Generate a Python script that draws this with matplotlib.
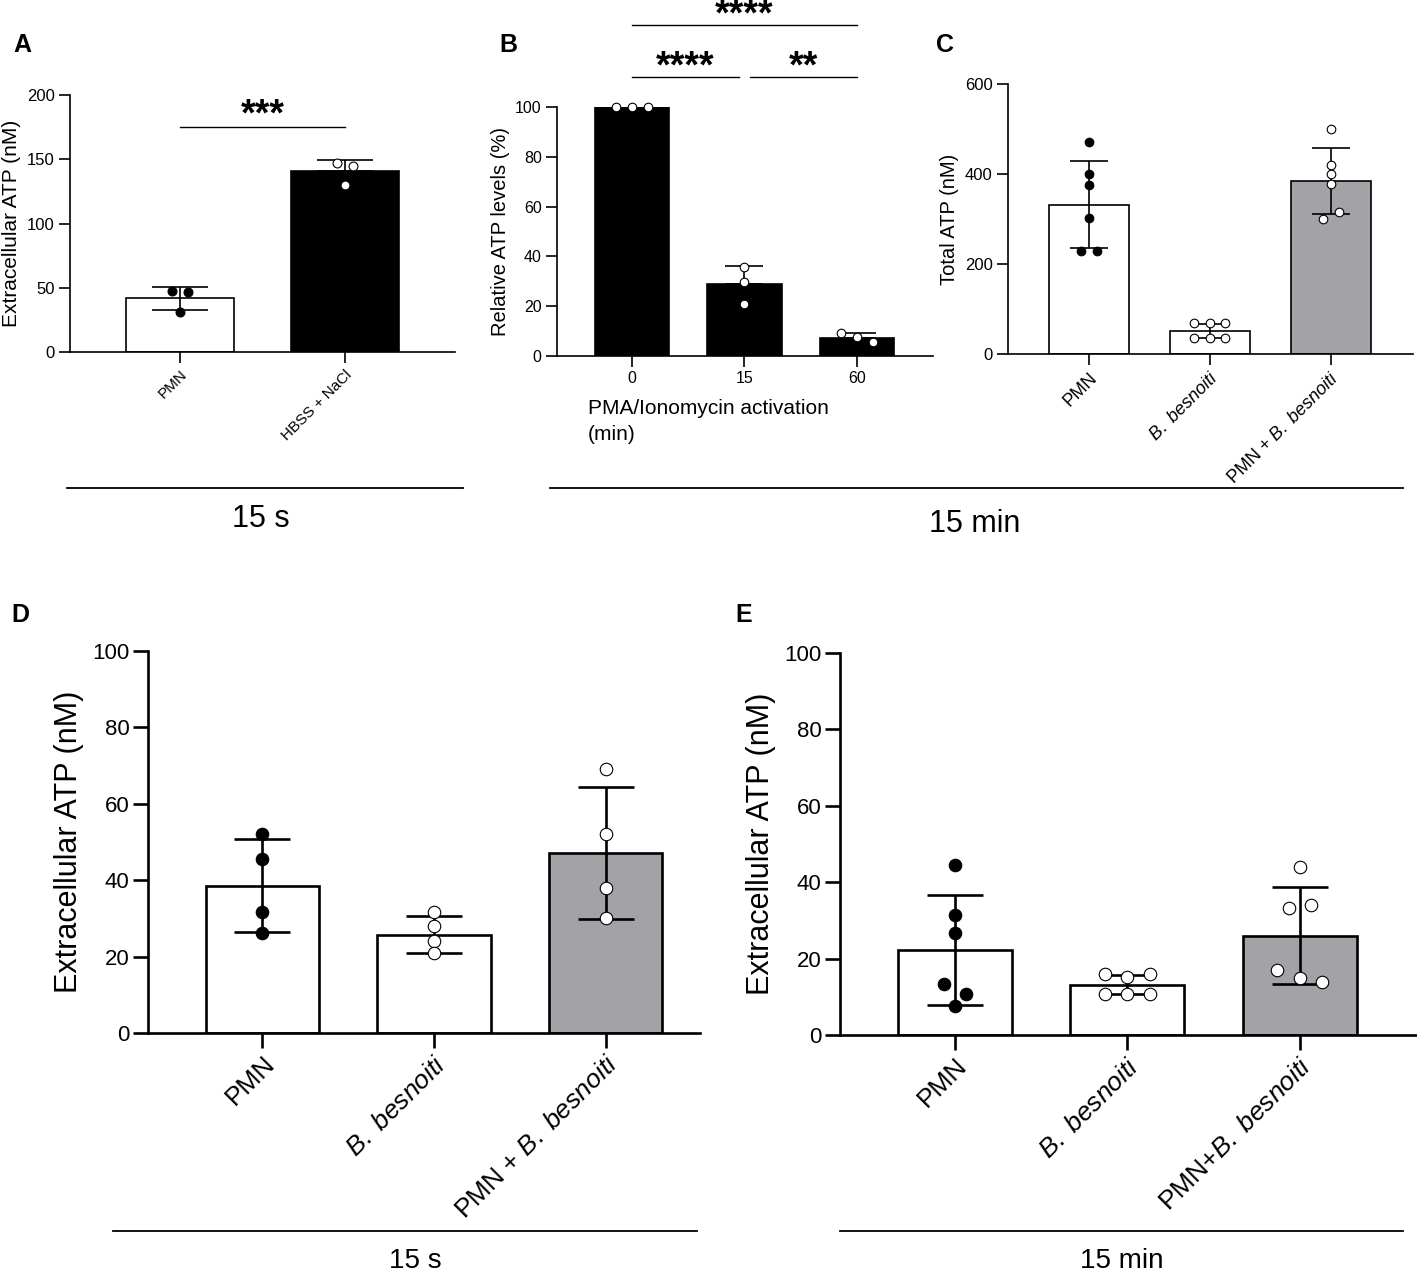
import matplotlib
matplotlib.use('Agg')
import matplotlib.pyplot as plt
import numpy as np
from matplotlib.lines import Line2D

plt.rcParams['font.family'] = ['Liberation Sans', 'DejaVu Sans']
plt.rcParams['mathtext.fontset'] = 'custom'
plt.rcParams['mathtext.rm'] = 'Liberation Sans'
plt.rcParams['mathtext.it'] = 'Liberation Sans:italic'

W, H = 1417, 1274

# ---- data ----
bb = r'$\mathit{B.\ besnoiti}$'

a_groups = ['PMN', 'HBSS + NaCl']
a_mean = [41.7, 140.6]
a_sd = [9.1, 9.1]
a_points = [[47.8, 46.5, 31.2], [146.8, 145.0, 129.8]]

b_groups = ['0', '15', '60']
b_mean = [100, 28.8, 7.3]
b_sd = [0, 7.5, 1.8]
b_points = [[100, 100, 100], [35.6, 29.9, 20.7], [9.1, 7.6, 5.7]]

c_groups = ['PMN', bb, 'PMN + ' + bb]
c_mean = [332, 51, 384]
c_sd = [97, 16, 73]
c_points = [[470, 400, 375, 303, 228, 228],
            [68, 68, 68, 36, 36, 36],
            [499, 421, 399, 377, 301, 316]]

d_groups = ['PMN', bb, 'PMN + ' + bb]
d_mean = [38.6, 25.7, 47.2]
d_sd = [12.1, 4.8, 17.3]
d_points = [[52.0, 45.5, 31.6, 26.1],
            [31.6, 27.9, 24.1, 20.9],
            [69.2, 52.1, 38.0, 30.1]]

e_groups = ['PMN', bb, 'PMN+' + bb]
e_mean = [22.3, 13.2, 26.0]
e_sd = [14.4, 2.5, 12.7]
e_points = [[44.5, 31.5, 26.8, 13.4, 10.7, 7.6],
            [16.0, 15.2, 16.0, 10.7, 10.7, 10.7],
            [43.9, 33.2, 34.0, 17.0, 14.8, 13.8]]

GRAY = '#a3a3a7'


def spread(vals, thresh, step):
    # put close values side by side, like a scatter-dot plot
    vals = np.asarray(vals, float)
    order = np.argsort(vals, kind='stable')
    groups = [[order[0]]]
    for i in order[1:]:
        if vals[i] - vals[groups[-1][-1]] < thresh:
            groups[-1].append(i)
        else:
            groups.append([i])
    off = np.zeros(len(vals))
    for g in groups:
        g = sorted(g)
        k = len(g)
        for j, idx in enumerate(g):
            off[idx] = (j - (k - 1) / 2) * step
    return off


def px_axes(fig, left, top, right, bottom):
    return fig.add_axes([left / W, 1 - bottom / H, (right - left) / W, (bottom - top) / H])


def draw_panel(ax, means, sds, points, bar_colors, dot_colors, xright, ylim, yticks,
               ms, cap, lw, thresh, step, ticklen, tickfs):
    x = np.arange(len(means))
    ax.bar(x, means, width=0.66, color=bar_colors, edgecolor='black', linewidth=lw, zorder=2)
    for i in range(len(means)):
        lo = 0 if bar_colors[i] == 'black' else sds[i]
        ax.errorbar(x[i], means[i], yerr=[[lo], [sds[i]]], fmt='none', ecolor='black',
                    elinewidth=lw, capsize=cap, capthick=lw, zorder=3)
        off = spread(points[i], thresh, step)
        ax.plot(x[i] + off, points[i], 'o', ms=ms, mfc=dot_colors[i], mec='black',
                mew=0.8, zorder=4, clip_on=False)
    ax.set_xlim(-0.667, xright)
    ax.set_ylim(*ylim)
    ax.set_yticks(yticks)
    ax.set_xticks(x)
    for s in ['top', 'right']:
        ax.spines[s].set_visible(False)
    for s in ['left', 'bottom']:
        ax.spines[s].set_linewidth(lw)
    ax.tick_params(length=ticklen, width=lw, labelsize=tickfs, pad=3)


def stars(ax, x, y, txt):
    ax.annotate(txt, (x, y), xytext=(0, -13), textcoords='offset points',
                ha='center', va='baseline', fontsize=27, fontweight='bold', annotation_clip=False)


fig = plt.figure(figsize=(W / 100, H / 100), dpi=100)

# ---- A ----
axA = px_axes(fig, 70, 95, 455, 352)
draw_panel(axA, a_mean, a_sd, a_points, ['white', 'black'], ['black', 'white'],
           1.667, (0, 200), [0, 50, 100, 150, 200], 6.4, 20, 1.2, 6, 0.1, 8, 12)
axA.set_xticklabels(a_groups, rotation=45, ha='right', va='top', rotation_mode='anchor', fontsize=11)
axA.set_ylabel('Extracellular ATP (nM)', fontsize=15, labelpad=4)
axA.plot([0, 1], [175, 175], color='black', lw=1.0, clip_on=False)
stars(axA, 0.5, 190, '***')

# ---- B ----
axB = px_axes(fig, 557, 107, 933, 356)
draw_panel(axB, b_mean, b_sd, b_points, ['black'] * 3, ['white'] * 3,
           2.676, (0, 100), [0, 20, 40, 60, 80, 100], 6.2, 14, 1.2, 3, 0.14, 8, 11.5)
axB.set_xticklabels(b_groups)
axB.set_ylabel('Relative ATP levels (%)', fontsize=14.5, labelpad=4)
for x0, x1, y, s in [(0, 0.95, 112, '****'), (1.046, 2, 112, '**'), (0, 2, 133, '****')]:
    axB.plot([x0, x1], [y, y], color='black', lw=1.0, clip_on=False)
    stars(axB, (x0 + x1) / 2, y + 7, s)
fig.text(588 / W, 1 - 409 / H, 'PMA/Ionomycin activation', fontsize=15, ha='left', va='center')
fig.text(588 / W, 1 - 434 / H, '(min)', fontsize=15, ha='left', va='center')

# ---- C ----
axC = px_axes(fig, 1008, 84, 1413, 354)
draw_panel(axC, c_mean, c_sd, c_points, ['white', 'white', GRAY], ['black', 'white', 'white'],
           2.68, (0, 600), [0, 200, 400, 600], 6.2, 14, 1.2, 18, 0.13, 8, 12)
axC.set_xticklabels(c_groups, rotation=45, ha='right', va='top', rotation_mode='anchor', fontsize=13)
axC.set_ylabel('Total ATP (nM)', fontsize=14.5, labelpad=4)

# ---- D ----
axD = px_axes(fig, 148, 651, 700, 1033)
draw_panel(axD, d_mean, d_sd, d_points, ['white', 'white', GRAY], ['black', 'white', 'white'],
           2.55, (0, 100), [0, 20, 40, 60, 80, 100], 9.0, 20, 1.9, 3, 0.13, 10.5, 16)
axD.set_xticklabels(d_groups, rotation=45, ha='right', va='top', rotation_mode='anchor', fontsize=19)
axD.set_ylabel('Extracellular ATP (nM)', fontsize=22, labelpad=6)

# ---- E ----
axE = px_axes(fig, 840, 653, 1417, 1035)
draw_panel(axE, e_mean, e_sd, e_points, ['white', 'white', GRAY], ['black', 'white', 'white'],
           2.68, (0, 100), [0, 20, 40, 60, 80, 100], 9.0, 20, 1.9, 3.0, 0.13, 10.5, 16)
axE.set_xticklabels(e_groups, rotation=45, ha='right', va='top', rotation_mode='anchor', fontsize=19)
axE.set_ylabel('Extracellular ATP (nM)', fontsize=22, labelpad=6)

# ---- time brackets and panel letters ----
for x0, x1, y, lbl, tx, ty, fs in [(67, 463, 488, '15 s', 261, 519, 22),
                                   (550, 1403, 488, '15 min', 975, 524, 22),
                                   (113, 697, 1231, '15 s', 415, 1261, 20),
                                   (840, 1403, 1231, '15 min', 1122, 1261, 20)]:
    fig.add_artist(Line2D([x0 / W, x1 / W], [1 - y / H, 1 - y / H], color='black', lw=1.3))
    fig.text(tx / W, 1 - ty / H, lbl, fontsize=fs, ha='center', va='center')

for lbl, x, y in [('A', 22, 45), ('B', 508, 45), ('C', 945, 45), ('D', 20, 615), ('E', 744, 615)]:
    fig.text(x / W, 1 - y / H, lbl, fontsize=18, fontweight='bold', ha='center', va='center')

fig.savefig('out.png', dpi=100)
